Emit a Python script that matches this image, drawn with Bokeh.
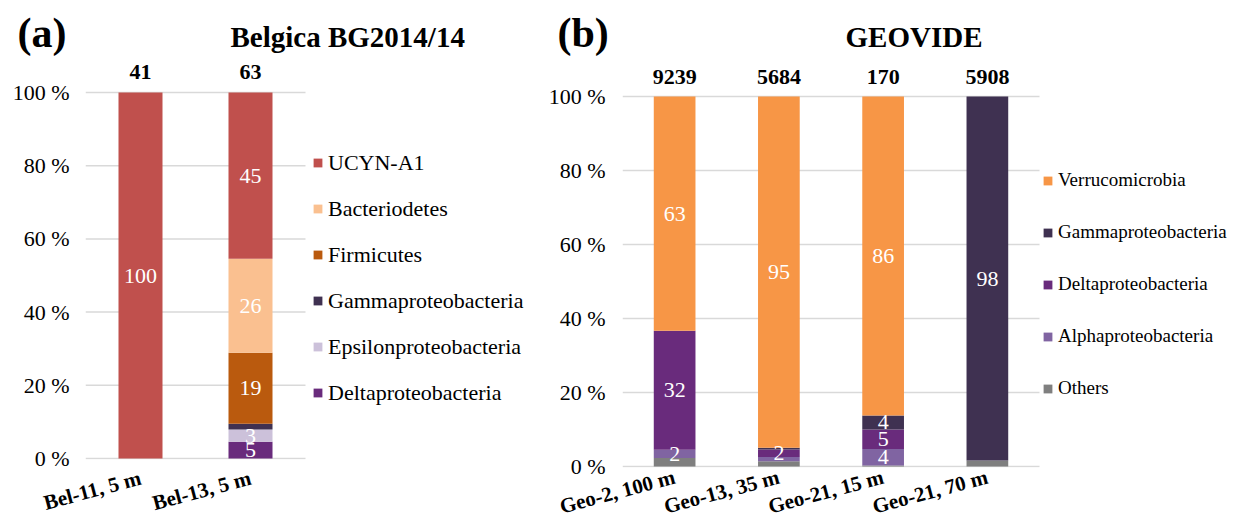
from bokeh.plotting import figure
from bokeh.models import (ColumnDataSource, Legend, LegendItem, Range1d, FixedTicker)
from bokeh.layouts import row, column
from bokeh.core.properties import value
from bokeh.embed import file_html
from bokeh.resources import INLINE

FONT = "'Liberation Serif', 'Times New Roman', Times, serif"

# ---------------- Panel (a): Belgica BG2014/14 ----------------
title_a = "Belgica BG2014/14"
samples_a = ["Bel-11, 5 m", "Bel-13, 5 m"]
counts_a = ["41", "63"]
# stacking order, bottom to top
taxa_a = ["Deltaproteobacteria", "Epsilonproteobacteria", "Gammaproteobacteria",
          "Firmicutes", "Bacteriodetes", "UCYN-A1"]
colors_a = ["#692B7C", "#CCC1DA", "#3F3151", "#BA5A0E", "#FAC090", "#C0504D"]
delta_a = [0.0, 4.6]
epsilon_a = [0.0, 3.3]
gamma_a = [0.0, 1.6]
firmicutes_a = [0.0, 19.4]
bacteriodetes_a = [0.0, 25.7]
ucyn_a = [100.0, 45.4]
values_a = [delta_a, epsilon_a, gamma_a, firmicutes_a, bacteriodetes_a, ucyn_a]
labels_a = [["", "5"], ["", "3"], ["", ""], ["", "19"], ["", "26"], ["100", "45"]]

# ---------------- Panel (b): GEOVIDE ----------------
title_b = "GEOVIDE"
samples_b = ["Geo-2, 100 m", "Geo-13, 35 m", "Geo-21, 15 m", "Geo-21, 70 m"]
counts_b = ["9239", "5684", "170", "5908"]
taxa_b = ["Others", "Alphaproteobacteria", "Deltaproteobacteria",
          "Gammaproteobacteria", "Verrucomicrobia"]
colors_b = ["#7F7F7F", "#8064A2", "#692B7C", "#3F3151", "#F79646"]
others_b = [2.3, 1.4, 0.3, 1.6]
alpha_b = [2.2, 1.2, 4.4, 0.0]
delta_b = [32.2, 2.0, 5.3, 0.0]
gamma_b = [0.0, 0.5, 3.8, 98.4]
verruco_b = [63.3, 94.9, 86.2, 0.0]
values_b = [others_b, alpha_b, delta_b, gamma_b, verruco_b]
labels_b = [["", "", "", ""], ["2", "", "4", ""], ["32", "2", "5", ""],
            ["", "", "4", "98"], ["63", "95", "86", ""]]

y_ticks = [0, 20, 40, 60, 80, 100]
y_tick_labels = ["0 %", "20 %", "40 %", "60 %", "80 %", "100 %"]

# ---------------- layout (screen pixels) ----------------
ORIGIN_X = 1
ORIGIN_Y = 1
HEADER_H = 56
FRAME_TOP = ORIGIN_Y + HEADER_H
W1 = 527 - ORIGIN_X
W2 = 720


def make_panel(samples, counts, taxa, colors, values, labels, *,
               canvas_left, canvas_width, frame_left, unit_px, y0, y100,
               bottom, leg_glyph_x, leg_first_y, leg_pitch, leg_font,
               count_dy, tick_standoff, xl_standoff):
    n = len(samples)
    px_per = (y0 - y100) / 100.0
    frame_bottom = y0 + 1
    y_start = -(frame_bottom - y0) / px_per
    y_end = 100 + (y100 - FRAME_TOP) / px_per
    frame_height = frame_bottom - FRAME_TOP
    frame_width = canvas_left + canvas_width - frame_left
    x_end = frame_width / unit_px

    p = figure(x_range=Range1d(0, x_end), y_range=Range1d(y_start, y_end),
               frame_width=frame_width, frame_height=frame_height,
               output_backend="svg", toolbar_location=None,
               min_border_left=frame_left - canvas_left, min_border_right=0,
               min_border_top=0, min_border_bottom=bottom)
    p.outline_line_color = None
    p.xgrid.visible = False
    p.ygrid.visible = False

    xs = [i + 0.5 for i in range(n)]

    # horizontal gridlines over the bar area only
    p.segment(x0=[0] * len(y_ticks), x1=[n] * len(y_ticks), y0=y_ticks, y1=y_ticks,
              line_color="#D9D9D9", line_width=1.5)

    data = {"x": xs}
    for t, v in zip(taxa, values):
        data[t] = v
    src = ColumnDataSource(data)
    rends = p.vbar_stack(taxa, x="x", width=0.4, fill_color=colors,
                         line_color=None, source=src)

    # segment labels
    lx, ly, lt = [], [], []
    for i in range(n):
        cum = 0.0
        for j in range(len(taxa)):
            v = values[j][i]
            if labels[j][i]:
                lx.append(xs[i])
                ly.append(cum + v / 2.0)
                lt.append(labels[j][i])
            cum += v
    p.text(x="x", y="y", text="t",
           source=ColumnDataSource(dict(x=lx, y=ly, t=lt)),
           text_font=value(FONT), text_font_style="normal",
           text_font_size=value("22px"),
           text_color="white", text_align="center", text_baseline="middle")

    # sequence counts above the bars
    p.text(x="x", y="y", text="t",
           source=ColumnDataSource(dict(x=xs, y=[100 + count_dy / px_per] * n, t=counts)),
           text_font=value(FONT), text_font_style="bold",
           text_font_size=value("22px"), text_color="black",
           text_align="center", text_baseline="middle")

    # axes
    p.yaxis.ticker = FixedTicker(ticks=y_ticks)
    p.yaxis.major_label_overrides = dict(zip(y_ticks, y_tick_labels))
    p.yaxis.axis_line_color = None
    p.yaxis.major_tick_line_color = None
    p.yaxis.minor_tick_line_color = None
    p.yaxis.major_tick_out = 0
    p.yaxis.major_tick_in = 0
    p.yaxis.major_label_standoff = tick_standoff
    p.yaxis.major_label_text_font = FONT
    p.yaxis.major_label_text_font_style = "normal"
    p.yaxis.major_label_text_font_size = "22px"
    p.yaxis.major_label_text_color = "black"

    p.xaxis.ticker = FixedTicker(ticks=xs)
    p.xaxis.major_label_overrides = dict(zip(xs, samples))
    p.xaxis.axis_line_color = None
    p.xaxis.major_tick_line_color = None
    p.xaxis.minor_tick_line_color = None
    p.xaxis.major_tick_out = 0
    p.xaxis.major_tick_in = 0
    p.xaxis.major_label_orientation = 0.26
    p.xaxis.major_label_standoff = xl_standoff
    p.xaxis.major_label_text_font = FONT
    p.xaxis.major_label_text_font_style = "bold"
    p.xaxis.major_label_text_font_size = "21px"
    p.xaxis.major_label_text_color = "black"

    # legend (inside the frame, to the right of the bars)
    label_h = 25
    spacing = leg_pitch - label_h
    k = len(taxa)
    leg_h = k * label_h + (k - 1) * spacing
    leg_bottom = leg_first_y - label_h / 2.0 + leg_h
    items = [LegendItem(label=t, renderers=[r])
             for t, r in reversed(list(zip(taxa, rends)))]
    leg = Legend(items=items,
                 location=(leg_glyph_x - frame_left, frame_bottom - leg_bottom),
                 orientation="vertical", margin=0, padding=0, spacing=spacing,
                 label_height=label_h, glyph_height=11, glyph_width=11,
                 label_standoff=5, label_text_font=FONT,
                 label_text_font_style="normal",
                 label_text_font_size=leg_font, label_text_color="black",
                 border_line_color=None, background_fill_alpha=0)
    p.add_layout(leg)
    return p


p1 = make_panel(samples_a, counts_a, taxa_a, colors_a, values_a, labels_a,
                canvas_left=ORIGIN_X, canvas_width=W1, frame_left=86, unit_px=110,
                y0=459, y100=93, bottom=63, leg_glyph_x=313, leg_first_y=169,
                leg_pitch=45, leg_font="22px", count_dy=21,
                tick_standoff=16, xl_standoff=18)

p2 = make_panel(samples_b, counts_b, taxa_b, colors_b, values_b, labels_b,
                canvas_left=ORIGIN_X + W1, canvas_width=W2, frame_left=623,
                unit_px=104.25, y0=467, y100=97, bottom=55, leg_glyph_x=1043,
                leg_first_y=181, leg_pitch=52, leg_font="19px", count_dy=20,
                tick_standoff=17, xl_standoff=9)

# header with panel tags and titles
hdr_w = W1 + W2
hdr = figure(x_range=Range1d(ORIGIN_X, ORIGIN_X + hdr_w),
             y_range=Range1d(ORIGIN_Y + HEADER_H, ORIGIN_Y),
             frame_width=hdr_w, frame_height=HEADER_H, min_border=0,
             output_backend="svg", toolbar_location=None)
hdr.axis.visible = False
hdr.grid.visible = False
hdr.outline_line_color = None
hdr.text(x=[18, 558], y=[33, 33], text=["(a)", "(b)"],
         text_font=value(FONT), text_font_style="bold",
         text_font_size=value("42px"), text_color="black",
         text_align="left", text_baseline="middle")
hdr.text(x=[231, 846], y=[37, 37], text=[title_a, title_b],
         text_font=value(FONT), text_font_style="bold",
         text_font_size=value("29px"), text_color="black",
         text_align="left", text_baseline="middle")

layout = column(hdr, row(p1, p2))
open("out.html", "w").write(file_html(layout, INLINE))
